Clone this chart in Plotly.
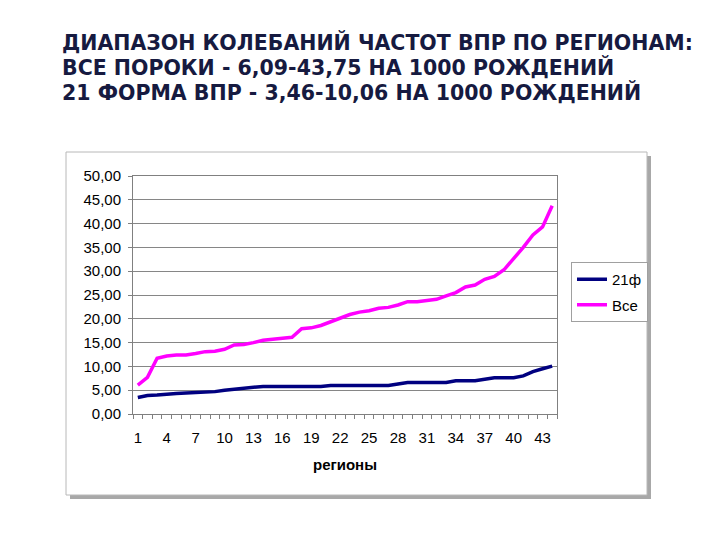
import plotly.graph_objects as go

regions = list(range(1, 45))
vse = [6.09, 7.7, 11.7, 12.2, 12.4, 12.4, 12.7, 13.1, 13.2, 13.6,
       14.5, 14.6, 15.0, 15.5, 15.7, 15.9, 16.1, 17.9, 18.1, 18.6,
       19.4, 20.0, 20.9, 21.4, 21.7, 22.2, 22.4, 22.9, 23.6, 23.6,
       23.9, 24.1, 24.8, 25.5, 26.7, 27.1, 28.3, 28.9, 30.3, 32.6,
       35.0, 37.6, 39.3, 43.75]
f21 = [3.46, 3.9, 4.0, 4.2, 4.3, 4.4, 4.5, 4.5, 4.7, 5.0,
       5.2, 5.3, 5.5, 5.8, 5.8, 5.8, 5.8, 5.8, 5.8, 5.8,
       6.0, 6.0, 6.0, 6.0, 6.0, 6.0, 6.0, 6.3, 6.6, 6.6,
       6.6, 6.6, 6.6, 7.0, 7.0, 7.0, 7.3, 7.6, 7.6, 7.6,
       8.0, 8.9, 9.5, 10.06]
x_ticks = list(range(1, 44, 3))
y_ticks = list(range(0, 51, 5))
title_lines = ["ДИАПАЗОН КОЛЕБАНИЙ ЧАСТОТ ВПР ПО РЕГИОНАМ:",
               "ВСЕ ПОРОКИ - 6,09-43,75 НА 1000 РОЖДЕНИЙ",
               "21 ФОРМА ВПР - 3,46-10,06 НА 1000 РОЖДЕНИЙ"]

W, H = 720, 540
OX, OY = 8, 8  # page offset of the figure
def px(x): return (x - OX) / W
def py(y): return 1 - (y - OY) / H

fig = go.Figure()
fig.add_trace(go.Scatter(x=regions, y=f21, name="21ф", mode="lines", legendgroup="a",
                         line=dict(color="#000080", width=3.5)))
fig.add_trace(go.Scatter(x=regions, y=vse, name="Все", mode="lines", legendgroup="b",
                         line=dict(color="#FF00FF", width=3.5)))

# chart box with shadow
fig.add_shape(type="rect", xref="paper", yref="paper",
              x0=px(70), x1=px(651), y0=py(499), y1=py(156),
              fillcolor="#a8a8a8", line=dict(width=0), layer="below")
fig.add_shape(type="rect", xref="paper", yref="paper",
              x0=px(66), x1=px(647), y0=py(495), y1=py(152),
              fillcolor="white", line=dict(color="#b8b8b8", width=1), layer="below")

for i, t in enumerate(title_lines):
    fig.add_annotation(text="<b>" + t + "</b>", xref="paper", yref="paper",
                       x=px(60), y=py(42 + 25 * i), xanchor="left", yanchor="middle",
                       showarrow=False,
                       font=dict(family="DejaVu Sans", size=20.5, color="#161a40"))

fig.update_layout(
    width=W, height=H,
    margin=dict(l=0, r=0, t=0, b=0, autoexpand=False),
    paper_bgcolor="white",
    plot_bgcolor="#c0c0c0",
    separators=",.",
    font=dict(family="Liberation Sans, Arial", size=15, color="black"),
    showlegend=True,
    legend=dict(x=px(571), y=py(262), xanchor="left", yanchor="top",
                bgcolor="white", bordercolor="#a0a0a0", borderwidth=1,
                font=dict(size=15), itemwidth=30, tracegroupgap=3),
    xaxis=dict(domain=[px(133), px(557)], range=[0.5, 44.5], automargin=False,
               tickmode="array", tickvals=x_ticks, ticktext=[str(v) for v in x_ticks],
               showgrid=False, zeroline=False,
               showline=True, linecolor="#808080", linewidth=1, mirror=True,
               ticks="", ticklabelstandoff=10,
               minor=dict(tickmode="linear", tick0=0.5, dtick=1, ticks="outside",
                          ticklen=4, tickcolor="#808080", showgrid=False),
               title=dict(text="<b>регионы</b>", font=dict(size=15), standoff=14),
               tickfont=dict(size=15)),
    yaxis=dict(domain=[py(414), py(176)], range=[0, 50], automargin=False,
               tickmode="array", tickvals=y_ticks,
               ticktext=[f"{v},00" for v in y_ticks],
               showgrid=True, gridcolor="#868686", gridwidth=1,
               zeroline=False, showline=True, linecolor="#808080", linewidth=1, mirror=True,
               ticks="outside", ticklen=4, tickcolor="#808080", ticklabelstandoff=4,
               tickfont=dict(size=15)),
)

fig.write_html("out.html")
